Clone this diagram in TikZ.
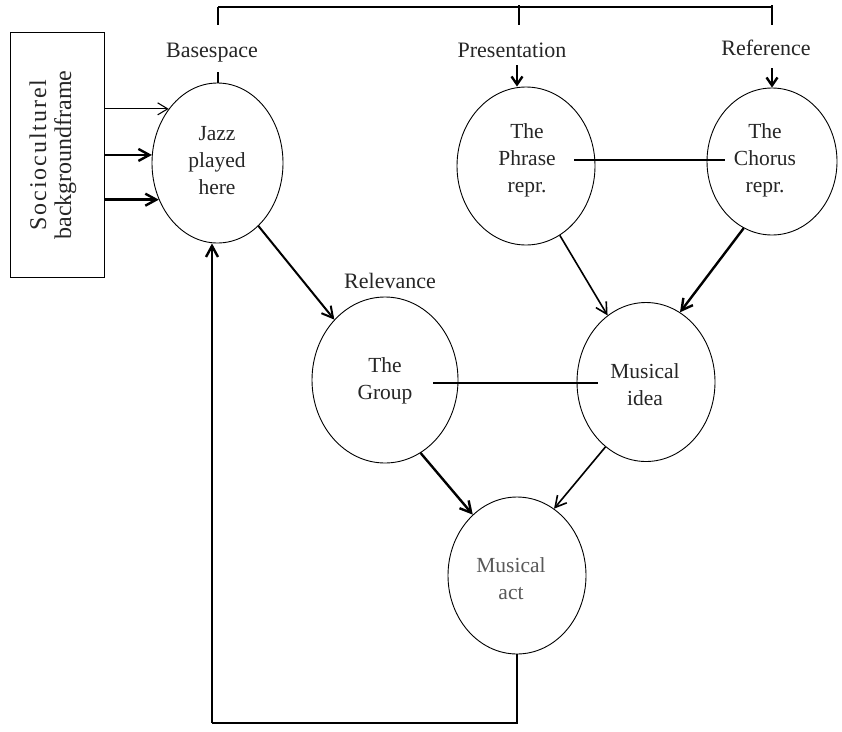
\documentclass[tikz,border=0pt]{standalone}
\usepackage{fontspec}
\setmainfont{Liberation Serif}
\newfontfamily\spacedfont[LetterSpace=8]{Liberation Serif}
\usetikzlibrary{shapes.geometric,arrows.meta}
\begin{document}
\begin{tikzpicture}[x=1pt,y=-1pt,
  ell/.style={draw=black, line width=0.9pt, ellipse, inner sep=0pt},
  intext/.style={align=center, font=\fontsize{21.5}{27}\selectfont, text=black!85, inner sep=0pt},
  lbl/.style={font=\fontsize{22}{27}\selectfont, text=black!85, inner sep=0pt, anchor=base},
  plain/.style={line width=1.1pt},
  tickline/.style={line width=2.4pt},
  thinarr/.style={line width=1.1pt, -{Straight Barb[length=10pt,width=12pt]}},
  medarr/.style={line width=1.6pt, -{Straight Barb[length=11pt,width=12pt]}},
  thickarr/.style={line width=2.4pt, -{Straight Barb[length=11pt,width=12pt]}},
  toparr/.style={line width=2.4pt, -{Straight Barb[length=8pt,width=11pt]}}
]
\fill[white] (0,0) rectangle (842,731);
\useasboundingbox (0,0) rectangle (842,731);

% box
\node[draw, line width=1pt, minimum width=94pt, minimum height=245pt, inner sep=0pt] (box) at (57,154.5) {};
\node[rotate=90, align=center, font=\fontsize{24}{25}\selectfont, text=black!85] (boxtext) at (53,155) {{\spacedfont Socioculturel}\\backgroundframe};

% ellipses
\node[ell, minimum width=131pt, minimum height=160pt] (jazz) at (217.5,163) {};
\node[ell, minimum width=138pt, minimum height=158pt] (phrase) at (526,166) {};
\node[ell, minimum width=130pt, minimum height=147pt] (chorus) at (772,161.5) {};
\node[ell, minimum width=146pt, minimum height=166pt] (group) at (385,380) {};
\node[ell, minimum width=138pt, minimum height=159pt] (idea) at (646,382) {};
\node[ell, minimum width=138pt, minimum height=157pt] (act) at (517,575.5) {};

% texts inside
\node[intext] (jazzT) at (217,161) {Jazz\\played\\here};
\node[intext] (phraseT) at (527,160) {The\\Phrase\\repr.};
\node[intext] (chorusT) at (765,160) {The\\Chorus\\repr.};
\node[intext] (groupT) at (385,381) {The\\Group};
\node[intext] (ideaT) at (645,385) {Musical\\idea};
\node[intext, text=black!65] (actT) at (511,579) {Musical\\act};

% labels
\node[lbl] (basespace) at (212,57) {Basespace};
\node[lbl] (presentation) at (512,57) {Presentation};
\node[lbl] (reference) at (766,55) {Reference};
\node[lbl] (relevance) at (390,288) {Relevance};

% top bracket
\coordinate (bl) at (218,7);
\coordinate (bm) at (519,7);
\coordinate (br) at (772,7);
\draw[plain] (bl) -- (br);
\draw[plain] (bl) -- ++(0,18);
\draw[tickline] ([yshift=2pt]bm) -- ([yshift=-18pt]bm);
\draw[tickline] ([yshift=2pt]br) -- ([yshift=-18pt]br);
\coordinate (bt) at (218,72);
\draw[plain] (bt) -- (bt |- jazz.north);

% label arrows
\coordinate (pa) at (517,65);
\draw[toparr] (pa) -- (pa |- phrase.north);
\coordinate (ra) at (772,68);
\draw[toparr] (ra) -- (chorus.north);

% box arrows
\draw[thinarr] (box.east |- jazz.132.8) -- (jazz.132.8);
\draw[thickarr] (box.east |- jazz.173) -- (jazz.173);
\draw[thickarr] (box.east |- jazz.212.5) -- (jazz.212.5);

% flow arrows
\draw[medarr, line width=2pt] (jazz.-57.7) -- (group.130.8);
\draw[medarr] (phrase.-64.4) -- (idea.120.2);
\draw[thickarr] (chorus.247.9) -- (idea.64.5);
\draw[thickarr] (group.-64) -- (act.126.6);
\draw[medarr] (idea.238.2) -- (act.61.2);

% feedback
\coordinate (fb) at (212,723);
\draw[line width=1.3pt] (act.south) |- (fb);
\draw[thickarr] (fb) -- (fb |- jazz.south);

% plain connecting lines
\coordinate (pl) at ([shift={(48,-6)}]phrase.center);
\coordinate (cl) at ([shift={(-47,0)}]chorus.center);
\draw[plain] (pl) -- (pl -| cl);
\coordinate (gl) at ([shift={(48,3)}]group.center);
\coordinate (il) at ([shift={(-48,0)}]idea.center);
\draw[plain] (gl) -- (gl -| il);
\end{tikzpicture}
\end{document}
